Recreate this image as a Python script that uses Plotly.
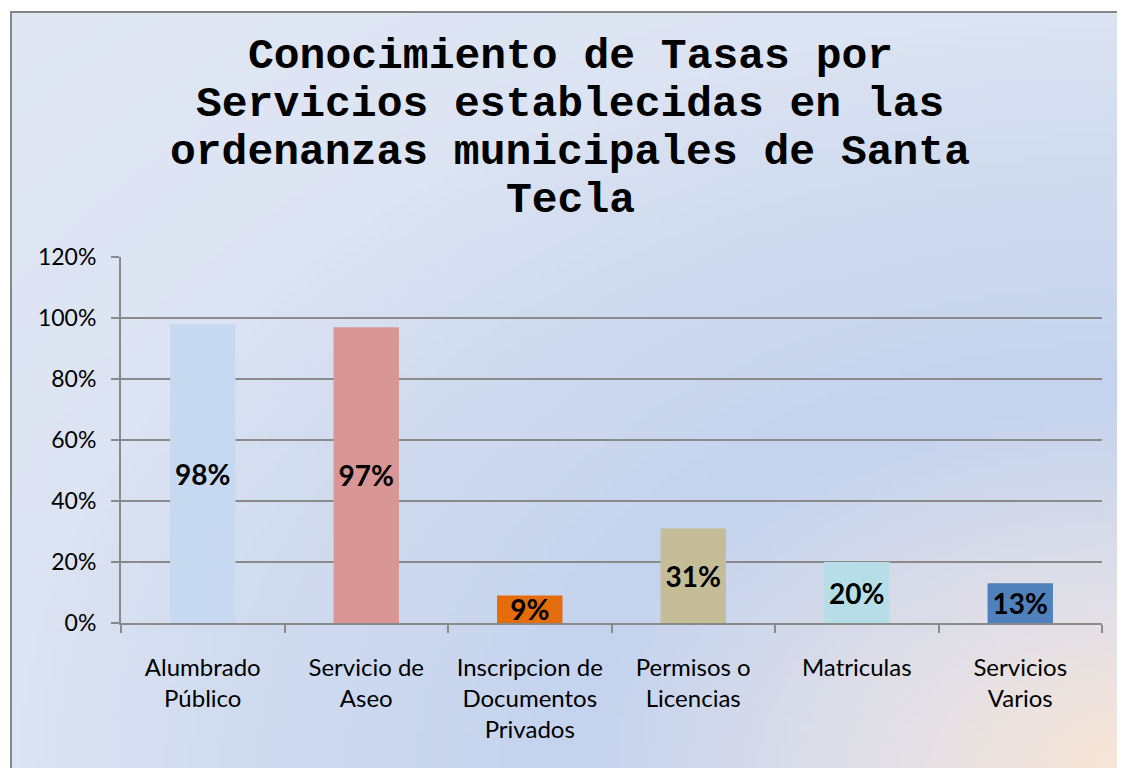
import base64
import struct
import zlib
import plotly.graph_objects as go

W, H = 1125, 768
OFF = 8  # page body margin, positions below are screen pixels minus this

categories = [
    "Alumbrado<br>Público",
    "Servicio de<br>Aseo",
    "Inscripcion de<br>Documentos<br>Privados",
    "Permisos o<br>Licencias",
    "Matriculas",
    "Servicios<br>Varios",
]
values = [0.98, 0.97, 0.09, 0.31, 0.20, 0.13]
bar_colors = ["#c6d9f1", "#d99694", "#e46c0a", "#c4bd97", "#b7dee8", "#4f81bd"]
title_lines = [
    "Conocimiento de Tasas por",
    "Servicios establecidas en las",
    "ordenanzas municipales de Santa",
    "Tecla",
]

# gradient stops (distance from bottom-right corner -> colour)
grad_stops = [
    (0.0, (250, 230, 214)),
    (0.2, (228, 224, 230)),
    (0.5, (196, 211, 238)),
    (0.8, (208, 219, 239)),
    (1.0, (220, 227, 242)),
    (1.5, (225, 231, 244)),
]


def grad_color(d):
    for (d0, c0), (d1, c1) in zip(grad_stops[:-1], grad_stops[1:]):
        if d <= d1:
            t = (d - d0) / (d1 - d0)
            return tuple(int(round(a + (b - a) * t)) for a, b in zip(c0, c1))
    return grad_stops[-1][1]


def gradient_png(w=160, h=110):
    rows = []
    for j in range(h):
        v = j / (h - 1)
        row = bytearray([0])
        for i in range(w):
            u = i / (w - 1)
            d = ((1 - u) ** 2 + (1 - v) ** 2) ** 0.5
            row.extend(grad_color(d))
        rows.append(bytes(row))
    raw = b"".join(rows)

    def chunk(tag, data):
        c = struct.pack(">I", len(data)) + tag + data
        return c + struct.pack(">I", zlib.crc32(tag + data) & 0xffffffff)

    png = b"\x89PNG\r\n\x1a\n"
    png += chunk(b"IHDR", struct.pack(">IIBBBBB", w, h, 8, 2, 0, 0, 0))
    png += chunk(b"IDAT", zlib.compress(raw, 9))
    png += chunk(b"IEND", b"")
    return "data:image/png;base64," + base64.b64encode(png).decode()


def px(x):
    return (x - OFF) / W


def py(y):
    return 1 - (y - OFF) / H


fig = go.Figure()
fig.add_trace(go.Bar(
    x=categories,
    y=values,
    marker=dict(color=bar_colors, line=dict(width=0)),
    text=[f"{v:.0%}" for v in values],
    textposition="inside",
    insidetextanchor="middle",
    textangle=0,
    constraintext="none",
    cliponaxis=False,
    textfont=dict(family="Lato", size=28, color="black", weight="bold"),
    hoverinfo="x+y",
))

grid_col = "#8a8a8a"
fig.update_layout(
    width=W,
    height=H,
    margin=dict(l=0, r=0, t=0, b=0),
    paper_bgcolor="white",
    plot_bgcolor="white",
    showlegend=False,
    bargap=0.6,
    xaxis=dict(
        domain=[px(121), px(1102)],
        automargin=False,
        showgrid=False,
        showline=True,
        linecolor=grid_col,
        linewidth=2,
        ticks="outside",
        tickson="boundaries",
        ticklen=8,
        tickwidth=1.5,
        tickcolor=grid_col,
        ticklabelstandoff=22,
        tickfont=dict(family="Lato", size=24, color="black"),
    ),
    yaxis=dict(
        domain=[py(623), py(257)],
        automargin=False,
        range=[0, 1.2],
        dtick=0.2,
        tickformat=".0%",
        showgrid=True,
        gridcolor=grid_col,
        gridwidth=2,
        showline=True,
        linecolor=grid_col,
        linewidth=2,
        zeroline=False,
        ticks="outside",
        ticklen=8,
        tickwidth=2,
        tickcolor=grid_col,
        ticklabelstandoff=10,
        tickfont=dict(family="Lato", size=23, color="black"),
    ),
    images=[dict(
        source=gradient_png(),
        xref="paper", yref="paper",
        x=px(11), y=py(12),
        sizex=1 - px(11), sizey=py(12),
        xanchor="left", yanchor="top",
        sizing="stretch",
        layer="below",
    )],
    shapes=[dict(
        type="rect", xref="paper", yref="paper",
        x0=px(11), x1=1.02, y0=-0.02, y1=py(12),
        line=dict(color="#878787", width=2),
        fillcolor="rgba(0,0,0,0)",
        layer="above",
    )],
)

for k, line in enumerate(title_lines):
    fig.add_annotation(
        text=line,
        xref="paper", yref="paper",
        x=px(570), y=py(56 + 48 * k),
        xanchor="center", yanchor="middle",
        showarrow=False,
        font=dict(family="Liberation Mono", size=43, color="black", weight="bold"),
    )

fig.write_html("out.html")
